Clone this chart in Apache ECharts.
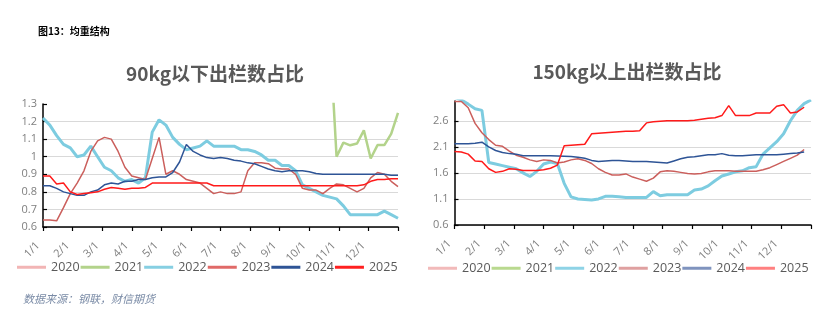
<!DOCTYPE html>
<html><head><meta charset="utf-8">
<script src="https://cdn.jsdelivr.net/npm/echarts@6/dist/echarts.min.js"></script>
<style>html,body{margin:0;padding:0;background:#fff}#c{width:831px;height:324px}</style>
</head><body><div id="c"></div><script>
// ---------- data ----------
const years = ['2020','2021','2022','2023','2024','2025'];
const monthLabels = ['1/1','2/1','3/1','4/1','5/1','6/1','7/1','8/1','9/1','10/1','11/1','12/1'];
const weeksPerYear = 52;   // weekly points, index 0..52

// 90kg以下出栏数占比 (weekly)
const left2020 = [];
const left2021 = Array(42).fill(null).concat([1.7,1.0,1.08,1.065,1.075,1.15,0.99,1.066,1.066,1.13,1.25]);
const left2022 = [1.22,1.18,1.12,1.07,1.05,1.00,1.01,1.06,1.00,0.94,0.92,0.88,0.86,0.87,0.85,0.88,1.14,1.21,1.18,1.11,1.07,1.04,1.05,1.06,1.09,1.06,1.06,1.06,1.06,1.04,1.04,1.03,1.01,0.98,0.98,0.95,0.95,0.92,0.84,0.82,0.80,0.78,0.77,0.76,0.72,0.67,0.67,0.67,0.67,0.67,0.69,0.67,0.65];
const left2023 = [0.64,0.64,0.635,0.71,0.79,0.85,0.92,1.03,1.09,1.11,1.10,1.03,0.94,0.89,0.88,0.87,0.99,1.11,0.90,0.92,0.90,0.87,0.86,0.85,0.82,0.79,0.80,0.79,0.79,0.80,0.92,0.965,0.965,0.96,0.935,0.93,0.93,0.90,0.82,0.81,0.81,0.79,0.82,0.845,0.84,0.82,0.80,0.82,0.88,0.91,0.90,0.86,0.83];
const left2024 = [0.835,0.835,0.82,0.80,0.79,0.78,0.78,0.80,0.81,0.84,0.85,0.845,0.86,0.86,0.87,0.87,0.88,0.885,0.885,0.91,0.97,1.07,1.03,1.01,0.995,0.99,0.995,0.99,0.98,0.975,0.965,0.96,0.945,0.93,0.92,0.915,0.92,0.92,0.92,0.915,0.905,0.90,0.90,0.90,0.90,0.90,0.90,0.90,0.90,0.90,0.90,0.895,0.895];
const left2025 = [0.89,0.89,0.845,0.85,0.80,0.785,0.79,0.795,0.80,0.815,0.825,0.82,0.815,0.82,0.82,0.825,
  0.85,0.85,0.85,0.85,0.85,0.85,0.85,0.85,0.85,
  0.835,0.835,0.835,0.835,0.835,0.835,0.835,0.835,0.835,0.835,0.835,0.835,0.835,0.835,0.835,0.835,0.835,0.835,0.835,0.835,0.835,0.835,
  0.84,0.86,0.87,0.87,0.875,0.875];

// 150kg以上出栏数占比 (weekly)
const right2020 = [];
const right2021 = [];
const right2022 = [3.05,3.0,2.92,2.83,2.80,1.80,1.77,1.74,1.71,1.68,1.60,1.53,1.63,1.77,1.81,1.78,1.40,1.14,1.10,1.09,1.08,1.10,1.15,1.15,1.14,1.13,1.13,1.13,1.13,1.24,1.16,1.18,1.18,1.18,1.18,1.27,1.29,1.35,1.45,1.54,1.58,1.62,1.64,1.70,1.72,1.96,2.08,2.20,2.35,2.60,2.80,2.93,3.0];
const right2023 = [2.97,2.97,2.85,2.55,2.37,2.24,2.13,2.11,2.02,1.94,1.90,1.85,1.82,1.85,1.84,1.79,1.81,1.85,1.87,1.84,1.78,1.68,1.61,1.56,1.56,1.58,1.52,1.48,1.44,1.50,1.62,1.64,1.63,1.61,1.59,1.58,1.59,1.62,1.64,1.64,1.64,1.63,1.63,1.63,1.63,1.66,1.70,1.76,1.82,1.88,1.94,2.05,null];
const right2024 = [2.16,2.16,2.16,2.17,2.19,2.10,2.03,1.99,1.97,1.96,1.93,1.93,1.93,1.93,1.93,1.925,1.92,1.915,1.90,1.88,1.84,1.82,1.83,1.84,1.84,1.83,1.82,1.82,1.82,1.81,1.80,1.79,1.83,1.87,1.90,1.91,1.93,1.95,1.95,1.97,1.94,1.93,1.93,1.94,1.95,1.95,1.95,1.95,1.96,1.97,1.98,2.00,null];
const right2025 = [2.01,2.00,1.96,1.83,1.82,1.68,1.61,1.63,1.68,1.67,1.645,1.645,1.645,1.66,1.69,1.75,2.12,2.13,2.14,2.15,2.35,2.36,2.37,2.38,2.39,2.40,2.40,2.41,2.56,2.58,2.59,2.60,2.60,2.60,2.60,2.61,2.63,2.65,2.66,2.70,2.89,2.70,2.70,2.70,2.75,2.75,2.75,2.88,2.91,2.75,2.77,2.86,null];

const leftSeriesData = [left2020,left2021,left2022,left2023,left2024,left2025];
const rightSeriesData = [right2020,right2021,right2022,right2023,right2024,right2025];

// ---------- styles ----------
const lineColors = ['#F2B5B5','#B3D38B','#7DCCE0','#CB5F5C','#2E5496','#FF1A1A'];
const lineWidths = [2,2.5,3,1.5,1.5,1.5];
const leftLegendColors = ['#F2B5B5','#B3D38B','#86CFE2','#E06A68','#2E5496','#FF2020'];
const rightLegendColors = ['#F2BABA','#B9D98F','#8ED3E6','#DFA0A0','#7F93BE','#FF8080'];
const fontLatin = '"Open Sans", "Noto Sans CJK SC", sans-serif';
const fontCJK = '"Noto Sans CJK SC", "Open Sans", sans-serif';

function toPoints(arr){ return arr.map((v,i)=>[i*12/weeksPerYear, v]); }

function xAxisFor(gi){
  return {type:'value', gridIndex:gi, min:0, max:12, interval:1,
    axisLine:{show:true, onZero:false, lineStyle:{color:'#000', width:1.5}},
    axisTick:{show:true, length:4, lineStyle:{color:'#000', width:1.2}},
    splitLine:{show:false},
    axisLabel:{rotate:45, margin:12, fontSize:11, color:'#7f7f7f', fontFamily:fontLatin,
      padding:[0,7,0,0],
      formatter: v => monthLabels[Math.round(v)] || ''}};
}
function yAxisFor(gi, min, max, interval){
  return {type:'value', gridIndex:gi, min, max, interval,
    axisLine:{show:true, lineStyle:{color:'#000', width:1.5}},
    axisTick:{show:true, inside:true, length:4, lineStyle:{color:'#000', width:1.2}},
    splitLine:{show:true, showMaxLine:false, lineStyle:{color:'#D9D9D9', width:1}},
    axisLabel:{fontSize:11, color:'#7f7f7f', fontFamily:fontLatin, margin:6, showMaxLabel:gi===0,
      formatter: v => String(parseFloat(v.toFixed(2)))}};
}

const series = [];
years.forEach((y,k)=>{
  series.push({name:y, type:'line', xAxisIndex:0, yAxisIndex:0, data:toPoints(leftSeriesData[k]),
    showSymbol:false, symbol:'none', connectNulls:false, clip:true,
    lineStyle:{color:lineColors[k], width:lineWidths[k]}, itemStyle:{color:lineColors[k]}, z: k===2?2:3});
  series.push({name:y, type:'line', xAxisIndex:1, yAxisIndex:1, data:toPoints(rightSeriesData[k]),
    showSymbol:false, symbol:'none', connectNulls:false, clip:true,
    lineStyle:{color:lineColors[k], width:lineWidths[k]}, itemStyle:{color:lineColors[k]}, z: k===2?2:3});
});
const legendBase = {icon:'rect', itemWidth:29, itemHeight:3, itemGap:1, selectedMode:false,
  textStyle:{fontSize:12.5, color:'#595959', fontFamily:fontLatin}};

const option = {
  animation:false,
  backgroundColor:'#fff',
  title:[
    {text:'图13：均重结构', left:33, top:21, textStyle:{fontSize:10, fontWeight:'bold', color:'#000', fontFamily:fontCJK}},
    {text:'90kg以下出栏数占比', left:210, top:59, textAlign:'center', textStyle:{fontSize:19, fontWeight:'bold', color:'#595959', fontFamily:fontCJK}},
    {text:'150kg以上出栏数占比', left:622, top:57, textAlign:'center', textStyle:{fontSize:19, fontWeight:'bold', color:'#595959', fontFamily:fontCJK}},
    {text:'数据来源：钢联，财信期货', left:18, top:288, textStyle:{fontSize:11, fontStyle:'italic', fontWeight:'normal', color:'#7A8BA6', fontFamily:fontCJK}}
  ],
  legend:[
    Object.assign({}, legendBase, {left:12, top:256, data: years.map((y,k)=>({name:y, itemStyle:{color:leftLegendColors[k]}}))}),
    Object.assign({}, legendBase, {left:423, top:257, data: years.map((y,k)=>({name:y, itemStyle:{color:rightLegendColors[k]}}))})
  ],
  grid:[
    {left:43, top:104, width:355, height:123},
    {left:454.5, top:101, width:356.5, height:124}
  ],
  xAxis:[xAxisFor(0), xAxisFor(1)],
  yAxis:[yAxisFor(0,0.6,1.3,0.1), yAxisFor(1,0.6,2.98,0.5)],
  series
};
const chart = echarts.init(document.getElementById('c'), null, {renderer:'canvas'});
chart.setOption(option);
</script></body></html>
